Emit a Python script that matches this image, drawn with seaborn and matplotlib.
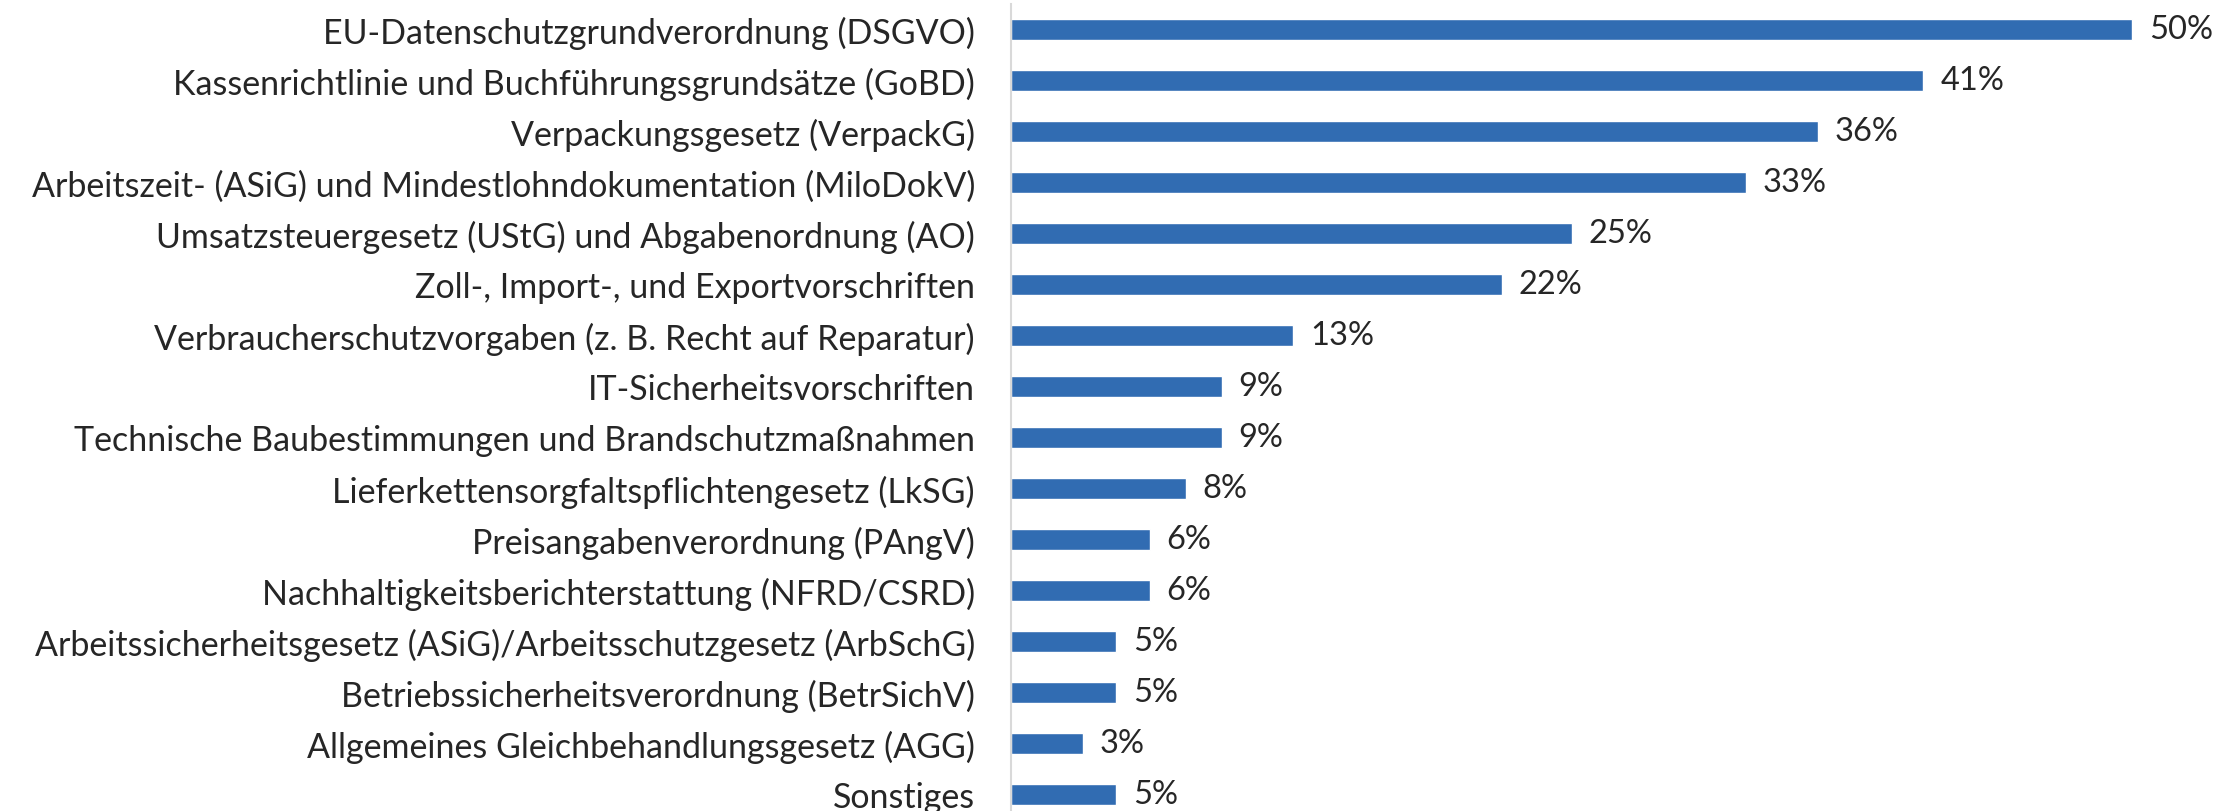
import matplotlib
matplotlib.use("Agg")
import matplotlib.pyplot as plt
import seaborn as sns
import pandas as pd

# Werte (Prozent, Balkenlängen)
kategorien = [
    "EU-Datenschutzgrundverordnung (DSGVO)",
    "Kassenrichtlinie und Buchführungsgrundsätze (GoBD)",
    "Verpackungsgesetz (VerpackG)",
    "Arbeitszeit- (ASiG) und Mindestlohndokumentation (MiloDokV)",
    "Umsatzsteuergesetz (UStG) und Abgabenordnung (AO)",
    "Zoll-, Import-, und Exportvorschriften",
    "Verbraucherschutzvorgaben (z. B. Recht auf Reparatur)",
    "IT-Sicherheitsvorschriften",
    "Technische Baubestimmungen und Brandschutzmaßnahmen",
    "Lieferkettensorgfaltspflichtengesetz (LkSG)",
    "Preisangabenverordnung (PAngV)",
    "Nachhaltigkeitsberichterstattung (NFRD/CSRD)",
    "Arbeitssicherheitsgesetz (ASiG)/Arbeitsschutzgesetz (ArbSchG)",
    "Betriebssicherheitsverordnung (BetrSichV)",
    "Allgemeines Gleichbehandlungsgesetz (AGG)",
    "Sonstiges",
]
werte = [50, 40.7, 36, 32.8, 25, 21.9, 12.6, 9.4, 9.4, 7.8, 6.2, 6.2, 4.7, 4.7, 3.2, 4.7]

df = pd.DataFrame({"Kategorie": kategorien, "Anteil": werte})

sns.set_style("white")
plt.rcParams["font.family"] = ["Lato", "DejaVu Sans"]

W, H = 2231, 812
fig = plt.figure(figsize=(W / 100, H / 100), dpi=100)
left = 1011 / W
top = 1 - 5 / H
bottom = 1 - 821 / H
ax = fig.add_axes([left, bottom, 1 - left, top - bottom])

sns.barplot(data=df, x="Anteil", y="Kategorie", color="#316CB2",
            width=0.43, saturation=1, ax=ax, orient="h")

for p, v in zip(ax.patches, werte):
    ax.annotate(f"{v:.0f}%", (p.get_width(), p.get_y() + p.get_height() / 2),
                xytext=(12, 0), textcoords="offset points",
                va="center", ha="left", fontsize=23.5)

ax.set_xlim(0, 1220 / 22.42)
ax.set_xlabel("")
ax.set_ylabel("")
ax.set_xticks([])
ax.tick_params(axis="y", length=0, pad=26, labelsize=24.5)
for s in ["top", "right", "bottom"]:
    ax.spines[s].set_visible(False)
ax.spines["left"].set_color("#d9d9d9")
ax.spines["left"].set_linewidth(1.5)

fig.savefig("out.png", dpi=100)
